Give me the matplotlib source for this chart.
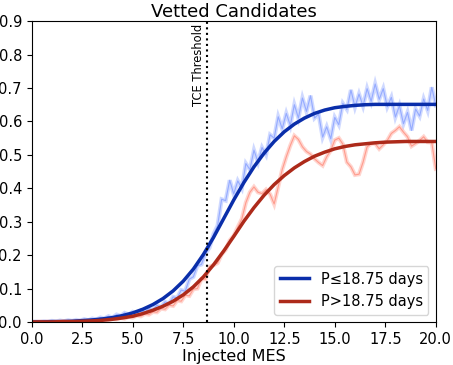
import numpy as np
import matplotlib
matplotlib.use("Agg")
import matplotlib.pyplot as plt

# fitted curves, sampled every 0.5 MES
mes_fit = np.linspace(0, 20, 41)
fit_short = [0.000, 0.000, 0.001, 0.001, 0.002, 0.004, 0.006, 0.009, 0.013, 0.019,
             0.027, 0.038, 0.052, 0.070, 0.093, 0.122, 0.158, 0.202, 0.253, 0.309,
             0.365, 0.417, 0.464, 0.505, 0.540, 0.569, 0.592, 0.610, 0.624, 0.634,
             0.641, 0.645, 0.648, 0.650, 0.651, 0.651, 0.651, 0.651, 0.651, 0.651, 0.651]
fit_long = [0.000, 0.000, 0.000, 0.001, 0.001, 0.002, 0.003, 0.005, 0.008, 0.012,
            0.017, 0.025, 0.035, 0.047, 0.062, 0.081, 0.105, 0.135, 0.171, 0.212,
            0.256, 0.301, 0.342, 0.379, 0.411, 0.438, 0.461, 0.480, 0.496, 0.508,
            0.518, 0.525, 0.530, 0.533, 0.536, 0.538, 0.539, 0.540, 0.540, 0.540, 0.540]

# measured recovery fractions, every 0.2 MES
mes_obs = np.linspace(0, 20, 101)
obs_short = [0.000, 0.001, 0.000, 0.002, 0.001, 0.003, 0.001, 0.004, 0.002, 0.005,
             0.003, 0.006, 0.004, 0.008, 0.005, 0.010, 0.007, 0.013, 0.010, 0.017,
             0.013, 0.022, 0.018, 0.027, 0.022, 0.030, 0.024, 0.034, 0.029, 0.040,
             0.036, 0.050, 0.044, 0.060, 0.055, 0.075, 0.072, 0.095, 0.092, 0.128,
             0.135, 0.168, 0.172, 0.205, 0.222, 0.263, 0.288, 0.367, 0.363, 0.424,
             0.383, 0.422, 0.400, 0.474, 0.456, 0.514, 0.478, 0.522, 0.500, 0.560,
             0.550, 0.614, 0.578, 0.624, 0.588, 0.650, 0.610, 0.670, 0.630, 0.677,
             0.610, 0.622, 0.553, 0.584, 0.548, 0.612, 0.590, 0.654, 0.636, 0.694,
             0.643, 0.682, 0.646, 0.698, 0.660, 0.712, 0.666, 0.698, 0.644, 0.672,
             0.613, 0.647, 0.593, 0.627, 0.573, 0.637, 0.616, 0.667, 0.633, 0.702,
             0.648]
obs_long = [0.000, 0.000, 0.001, 0.000, 0.001, 0.000, 0.001, 0.001, 0.002, 0.001,
            0.002, 0.001, 0.003, 0.002, 0.004, 0.003, 0.005, 0.004, 0.007, 0.006,
            0.009, 0.008, 0.012, 0.010, 0.015, 0.013, 0.019, 0.017, 0.024, 0.022,
            0.030, 0.029, 0.040, 0.038, 0.050, 0.048, 0.064, 0.062, 0.080, 0.078,
            0.098, 0.100, 0.128, 0.128, 0.165, 0.170, 0.176, 0.202, 0.216, 0.244,
            0.258, 0.284, 0.308, 0.357, 0.388, 0.404, 0.388, 0.384, 0.396, 0.382,
            0.353, 0.404, 0.456, 0.494, 0.528, 0.557, 0.546, 0.524, 0.510, 0.502,
            0.488, 0.477, 0.468, 0.494, 0.513, 0.544, 0.550, 0.532, 0.478, 0.464,
            0.440, 0.442, 0.478, 0.524, 0.533, 0.534, 0.518, 0.530, 0.543, 0.564,
            0.573, 0.584, 0.568, 0.554, 0.526, 0.534, 0.543, 0.554, 0.538, 0.537,
            0.458]

labels = ["P\u226418.75 days", "P>18.75 days"]
tce_threshold = 8.68

fig = plt.figure(figsize=(4.53, 3.65), dpi=100)
ax = fig.add_axes([0.070, 0.118, 0.892, 0.824])

# noisy measurements: soft wide stroke plus a thin sharper one
ax.plot(mes_obs, obs_short, color="#a9bbff", lw=3.0, alpha=0.55, solid_joinstyle="miter")
ax.plot(mes_obs, obs_short, color="#7d98ff", lw=0.8, alpha=0.7)
ax.plot(mes_obs, obs_long, color="#ffb3a8", lw=3.0, alpha=0.55, solid_joinstyle="miter")
ax.plot(mes_obs, obs_long, color="#ff8472", lw=0.8, alpha=0.7)

ax.plot(mes_fit, fit_short, color="#0a2eaa", lw=2.5, label=labels[0])
ax.plot(mes_fit, fit_long, color="#ad2a1a", lw=2.5, label=labels[1])

ax.axvline(tce_threshold, color="black", ls=":", lw=1.5)
ax.text(tce_threshold - 0.1, 0.893, "TCE Threshold", rotation=90,
        ha="right", va="top", fontsize=8.3)

ax.set_xlim(0, 20)
ax.set_ylim(0, 0.9)
ax.set_xticks(np.arange(0, 20.1, 2.5))
ax.set_yticks(np.arange(0, 0.91, 0.1))
ax.tick_params(labelsize=10.5)
ax.set_xlabel("Injected MES", fontsize=11.5, labelpad=2)
ax.set_title("Vetted Candidates", fontsize=13, pad=3)
ax.legend(loc="lower right", fontsize=10.5)

fig.savefig("out.png", dpi=100)
